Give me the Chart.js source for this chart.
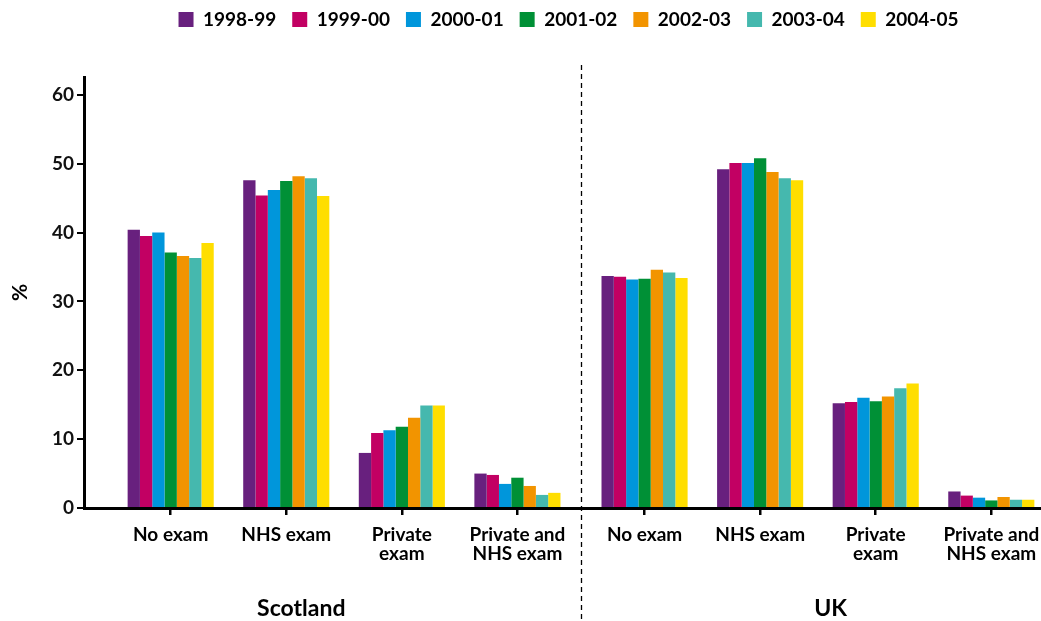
<!DOCTYPE html>
<html lang="en">
<head>
    <meta charset="UTF-8">
    <title>Dental examinations, Scotland and UK</title>
    <script src="https://cdn.jsdelivr.net/npm/chart.js"></script>
    <style>
        body { margin: 0; background: #fff; }
        .wrap { width: 1041px; height: 621px; }
    </style>
</head>
<body>
    <div class="wrap"><canvas id="examChart"></canvas></div>

    <script>
        // categories: 4 for Scotland, then the same 4 for the UK
        const categories = [
            'No exam', 'NHS exam', ['Private', 'exam'], ['Private and', 'NHS exam'],
            'No exam', 'NHS exam', ['Private', 'exam'], ['Private and', 'NHS exam']
        ];
        const years = ['1998-99', '1999-00', '2000-01', '2001-02', '2002-03', '2003-04', '2004-05'];

        // % values per year, same order as categories
        const y1998 = [40.4, 47.6, 8.0, 5.0, 33.7, 49.2, 15.2, 2.4];
        const y1999 = [39.5, 45.4, 10.9, 4.8, 33.6, 50.1, 15.4, 1.8];
        const y2000 = [40.0, 46.2, 11.3, 3.5, 33.2, 50.1, 16.0, 1.5];
        const y2001 = [37.1, 47.5, 11.8, 4.4, 33.3, 50.8, 15.5, 1.1];
        const y2002 = [36.6, 48.2, 13.1, 3.2, 34.6, 48.8, 16.2, 1.6];
        const y2003 = [36.3, 47.9, 14.9, 1.9, 34.2, 47.9, 17.4, 1.2];
        const y2004 = [38.5, 45.3, 14.9, 2.2, 33.4, 47.6, 18.1, 1.2];

        const groups = ['Scotland', 'UK'];
        const yTicks = [0, 10, 20, 30, 40, 50, 60];

        const seriesValues = [y1998, y1999, y2000, y2001, y2002, y2003, y2004];
        const colors = ['#68207e', '#c20063', '#0096db', '#009036', '#f29400', '#45b8ae', '#ffde00'];

        // the UK block sits a little further right than a plain step
        const groupGap = 0.1;
        const xPos = categories.map((c, i) => i + (i >= 4 ? groupGap : 0));
        const dividerPos = (xPos[3] + xPos[4]) / 2;
        const groupLabelPos = [1.13, 5.71];

        const FONT = 'Lato, "Open Sans", sans-serif';

        const datasets = years.map((yr, k) => ({
            label: yr,
            data: seriesValues[k].map((v, i) => ({ x: xPos[i], y: v })),
            backgroundColor: colors[k],
            borderWidth: 0,
            barPercentage: 1.0,
            categoryPercentage: 0.745
        }));

        // legend: fixed height so the plot starts at the right place,
        // and nudged because its item padding is wide
        const legendHeight = 77;
        const legendLift = 6;
        const legendShift = 6;
        const legendSpacer = {
            id: 'legendSpacer',
            beforeInit(chart) {
                const fit = chart.legend.fit;
                chart.legend.fit = function () {
                    fit.bind(chart.legend)();
                    this.height = legendHeight;
                };
            },
            afterLayout(chart) {
                const lg = chart.legend;
                lg.top -= legendLift;
                lg.bottom -= legendLift;
                lg.left += legendShift;
                lg.right += legendShift;
            }
        };

        // dashed divider and the Scotland / UK labels
        const extras = {
            id: 'extras',
            afterDraw(chart) {
                const ctx = chart.ctx;
                const x = chart.scales.x;
                const area = chart.chartArea;
                const dx = Math.round(x.getPixelForValue(dividerPos)) + 0.5;
                ctx.save();
                ctx.strokeStyle = '#000';
                ctx.lineWidth = 1.3;
                ctx.setLineDash([5, 4]);
                ctx.beginPath();
                ctx.moveTo(dx, area.top - 12);
                ctx.lineTo(dx, chart.height);
                ctx.stroke();
                ctx.setLineDash([]);
                ctx.fillStyle = '#000';
                ctx.font = 'bold 23px ' + FONT;
                ctx.textAlign = 'center';
                ctx.textBaseline = 'middle';
                groups.forEach((g, i) => {
                    ctx.fillText(g, x.getPixelForValue(groupLabelPos[i]), x.bottom - 12);
                });
                ctx.restore();
            }
        };

        const ctx = document.getElementById('examChart').getContext('2d');
        new Chart(ctx, {
            type: 'bar',
            data: { datasets: datasets },
            options: {
                responsive: true,
                maintainAspectRatio: false,
                animation: false,
                layout: { padding: 0 },
                plugins: {
                    legend: {
                        position: 'top',
                        fullSize: false,
                        labels: {
                            boxWidth: 15,
                            boxHeight: 15,
                            padding: 16,
                            color: '#000',
                            font: { family: FONT, size: 19, weight: 'bold' }
                        }
                    },
                    tooltip: { enabled: false }
                },
                scales: {
                    x: {
                        type: 'linear',
                        min: -0.75,
                        max: 7.53,
                        offset: false,
                        afterBuildTicks: s => { s.ticks = xPos.map(v => ({ value: v })); },
                        afterFit: s => {
                            s.height = 113;
                            s.paddingLeft = 0;
                            s.paddingRight = 0;
                        },
                        ticks: {
                            autoSkip: false,
                            maxRotation: 0,
                            padding: 10,
                            color: '#000',
                            font: { family: FONT, size: 19, weight: 'bold', lineHeight: 1.0 },
                            callback: (v, i) => categories[i]
                        },
                        grid: {
                            offset: false,
                            drawOnChartArea: false,
                            drawTicks: true,
                            tickLength: 7,
                            color: '#000',
                            lineWidth: 2.5
                        },
                        border: { display: true, color: '#000', width: 3 }
                    },
                    y: {
                        min: 0,
                        max: 62.6,
                        afterBuildTicks: s => { s.ticks = yTicks.map(v => ({ value: v })); },
                        afterFit: s => { s.width = 84; },
                        title: {
                            display: true,
                            text: '%',
                            color: '#000',
                            padding: { top: 8, bottom: 0 },
                            font: { family: FONT, size: 21, weight: 'bold' }
                        },
                        ticks: {
                            padding: 3,
                            color: '#111',
                            font: { family: FONT, size: 19, weight: 'bold' }
                        },
                        grid: {
                            drawOnChartArea: false,
                            drawTicks: true,
                            tickLength: 7,
                            color: '#000',
                            lineWidth: 2
                        },
                        border: { display: true, color: '#000', width: 3 }
                    }
                }
            },
            plugins: [legendSpacer, extras]
        });
    </script>
</body>
</html>
